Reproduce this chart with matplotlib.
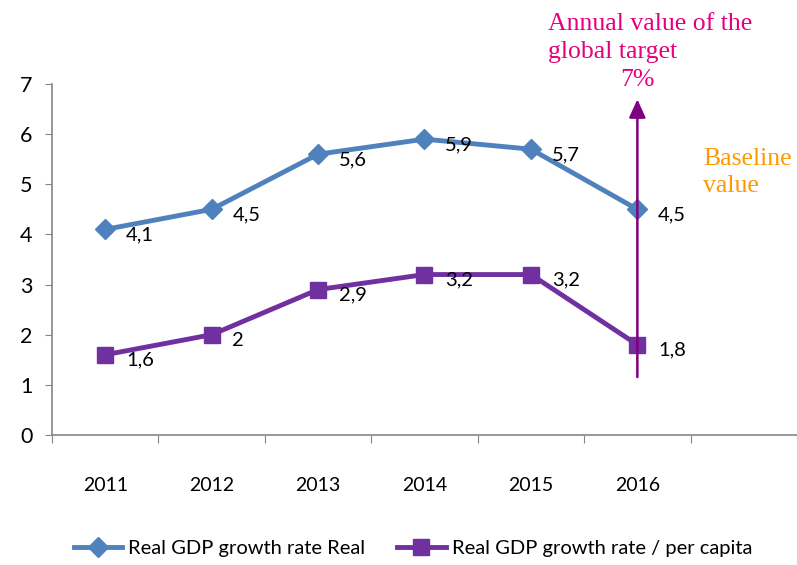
import matplotlib
matplotlib.use("Agg")
import matplotlib.pyplot as plt
import numpy as np

years = ["2011", "2012", "2013", "2014", "2015", "2016"]
gdp_real = [4.1, 4.5, 5.6, 5.9, 5.7, 4.5]
gdp_per_capita = [1.6, 2.0, 2.9, 3.2, 3.2, 1.8]
series_names = ["Real GDP growth rate Real", "Real GDP growth rate / per capita"]
arrow_range = [1.1, 6.75]

sans = ["Lato", "DejaVu Sans"]
serif = ["Liberation Serif", "DejaVu Serif"]

fig = plt.figure(figsize=(7.97, 5.65), dpi=100)
ax = fig.add_axes([52/797, 1-435/565, 1-52/797, (435-84)/565])

x = np.arange(len(years))
blue = "#4F81BD"
purple = "#7030A0"
ax.plot(x, gdp_real, color=blue, lw=3.5, marker="D", ms=10, label=series_names[0], zorder=3)
ax.plot(x, gdp_per_capita, color=purple, lw=3.5, marker="s", ms=12, label=series_names[1], zorder=3)

def fmt(v):
    return ("%g" % v).replace(".", ",")

for series in (gdp_real, gdp_per_capita):
    for xi, v in zip(x, series):
        ax.annotate(fmt(v), (xi, v), xytext=(15, -4), textcoords="offset points",
                    ha="left", va="center", fontsize=14.5, family=sans, color="black", zorder=5)

# arrow
ax.annotate("", xy=(x[-1], arrow_range[1]), xytext=(x[-1], arrow_range[0]),
            arrowprops=dict(arrowstyle="-|>,head_length=1.1,head_width=0.5", color="#800080", lw=1.8),
            zorder=4, annotation_clip=False)

ax.set_xlim(-0.5, 6.46)
ax.set_ylim(0, 7)
ax.set_yticks(range(0, 8))
ax.set_xticks(np.arange(-0.5, 7, 1.0))
ax.set_xticklabels([])
ax.set_xticks(x, minor=True)
ax.set_xticklabels(years, minor=True, fontsize=14, family=sans)
ax.tick_params(axis="x", which="minor", length=0, pad=30)
ax.tick_params(axis="x", which="major", length=6, color="#868686", direction="out")
ax.tick_params(axis="y", length=5, color="#868686", labelsize=15.5, pad=9)
for lab in ax.get_yticklabels():
    lab.set_family(sans)
for s in ["top", "right"]:
    ax.spines[s].set_visible(False)
for s in ["left", "bottom"]:
    ax.spines[s].set_color("#868686")
    ax.spines[s].set_linewidth(1.2)

pink = "#E6007E"
fig.text(548/797, 1-24/565, "Annual value of the", color=pink,
         fontsize=18.5, family=serif, ha="left", va="center")
fig.text(548/797, 1-52/565, "global target", color=pink,
         fontsize=18.5, family=serif, ha="left", va="center")
fig.text(637/797, 1-80/565, "7%", color=pink, fontsize=18.5, family=serif,
         ha="center", va="center")
fig.text(703/797, 1-159/565, "Baseline", color="#FF9900", fontsize=18.5, family=serif,
         ha="left", va="center")
fig.text(703/797, 1-186/565, "value", color="#FF9900", fontsize=18.5, family=serif,
         ha="left", va="center")

leg = fig.legend(loc="center", bbox_to_anchor=(0.518, 1-548/565), ncol=2, frameon=False,
                 prop={"family": sans, "size": 14.5}, handlelength=2.4, columnspacing=1.6,
                 handletextpad=0.3, markerscale=1.0)

fig.savefig("out.png", dpi=100)
